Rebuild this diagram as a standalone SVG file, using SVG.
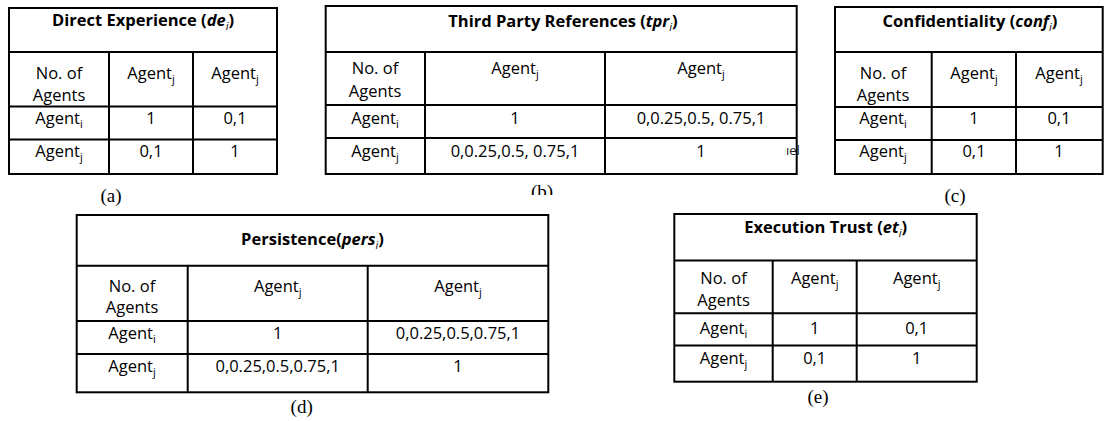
<svg xmlns="http://www.w3.org/2000/svg" width="1104" height="421" viewBox="0 0 1104 421">
<style>
.grid{fill:none;stroke:#000;stroke-width:2}
.t{font-family:"Open Sans","Liberation Sans",sans-serif;font-size:16.5px;fill:#000;text-anchor:middle}
.h{font-weight:bold}
.it{font-style:italic}
.sub{font-size:11px;font-weight:normal}
.lbl{font-family:"Liberation Serif",serif;font-size:19px;fill:#000;text-anchor:middle}
</style>
<defs>
<clipPath id="clipB"><rect x="500" y="170" width="90" height="25"/></clipPath>
</defs>
<rect width="1104" height="421" fill="#fff"/>

<g id="table-a">
<rect class="grid" x="9" y="8" width="268" height="166"/>
<path class="grid" d="M9 52H277M9 106.5H277M9 139.5H277M109 52V174M193 52V174"/>
<text class="t h" x="143" y="26">Direct Experience (<tspan class="it">de</tspan><tspan class="it sub" dy="4">i</tspan><tspan dy="-4">)</tspan></text>
<text class="t" x="59" y="79">No. of</text>
<text class="t" x="59" y="100.5">Agents</text>
<text class="t" x="151" y="79">Agent<tspan class="sub" dy="4">j</tspan></text>
<text class="t" x="235" y="79">Agent<tspan class="sub" dy="4">j</tspan></text>
<text class="t" x="59" y="124">Agent<tspan class="sub" dy="4">i</tspan></text>
<text class="t" x="151" y="124">1</text>
<text class="t" x="235" y="124">0,1</text>
<text class="t" x="59" y="157">Agent<tspan class="sub" dy="4">j</tspan></text>
<text class="t" x="151" y="157">0,1</text>
<text class="t" x="235" y="157">1</text>
<text class="lbl" x="111" y="202">(a)</text>
</g>

<g id="table-b">
<rect class="grid" x="325.7" y="6" width="471" height="168"/>
<path class="grid" d="M325.7 52H796.7M325.7 105H796.7M325.7 138H796.7M425 52V174M605 52V174"/>
<text class="t h" x="563" y="27">Third Party References (<tspan class="it">tpr</tspan><tspan class="it sub" dy="4">i</tspan><tspan dy="-4">)</tspan></text>
<text class="t" x="375" y="74">No. of</text>
<text class="t" x="375" y="97">Agents</text>
<text class="t" x="515" y="74">Agent<tspan class="sub" dy="4">j</tspan></text>
<text class="t" x="701" y="74">Agent<tspan class="sub" dy="4">j</tspan></text>
<text class="t" x="375" y="124">Agent<tspan class="sub" dy="4">i</tspan></text>
<text class="t" x="515" y="124">1</text>
<text class="t" x="701" y="124">0,0.25,0.5, 0.75,1</text>
<text class="t" x="375" y="157">Agent<tspan class="sub" dy="4">j</tspan></text>
<text class="t" x="515" y="157">0,0.25,0.5, 0.75,1</text>
<text class="t" x="701" y="157">1</text>
<text x="786" y="155" font-family="Open Sans, Liberation Sans, sans-serif" font-size="13" fill="#222">ıel</text>
<text class="lbl" x="542" y="198" clip-path="url(#clipB)">(b)</text>
</g>

<g id="table-c">
<rect class="grid" x="835" y="7" width="267.7" height="167"/>
<path class="grid" d="M835 52H1102.7M835 107H1102.7M835 140H1102.7M931.7 52V174M1016 52V174"/>
<text class="t h" x="970" y="27">Confidentiality (<tspan class="it">conf</tspan><tspan class="it sub" dy="4">i</tspan><tspan dy="-4">)</tspan></text>
<text class="t" x="883" y="79">No. of</text>
<text class="t" x="883" y="100.5">Agents</text>
<text class="t" x="974" y="79">Agent<tspan class="sub" dy="4">j</tspan></text>
<text class="t" x="1059" y="79">Agent<tspan class="sub" dy="4">j</tspan></text>
<text class="t" x="883" y="124">Agent<tspan class="sub" dy="4">i</tspan></text>
<text class="t" x="974" y="124">1</text>
<text class="t" x="1059" y="124">0,1</text>
<text class="t" x="883" y="157">Agent<tspan class="sub" dy="4">j</tspan></text>
<text class="t" x="974" y="157">0,1</text>
<text class="t" x="1059" y="157">1</text>
<text class="lbl" x="955" y="202">(c)</text>
</g>

<g id="table-d">
<rect class="grid" x="76.7" y="215" width="471.6" height="177.3"/>
<path class="grid" d="M76.7 265.7H548.3M76.7 321H548.3M76.7 354H548.3M187.7 265.7V392.3M367.7 265.7V392.3"/>
<text class="t h" x="312.5" y="245">Persistence(<tspan class="it">pers</tspan><tspan class="it sub" dy="4">i</tspan><tspan dy="-4">)</tspan></text>
<text class="t" x="132" y="292">No. of</text>
<text class="t" x="132" y="313">Agents</text>
<text class="t" x="277.7" y="292">Agent<tspan class="sub" dy="4">j</tspan></text>
<text class="t" x="458" y="292">Agent<tspan class="sub" dy="4">j</tspan></text>
<text class="t" x="132" y="339">Agent<tspan class="sub" dy="4">i</tspan></text>
<text class="t" x="277.7" y="339">1</text>
<text class="t" x="458" y="339">0,0.25,0.5,0.75,1</text>
<text class="t" x="132" y="372">Agent<tspan class="sub" dy="4">j</tspan></text>
<text class="t" x="277.7" y="372">0,0.25,0.5,0.75,1</text>
<text class="t" x="458" y="372">1</text>
<text class="lbl" x="301.7" y="413">(d)</text>
</g>

<g id="table-e">
<rect class="grid" x="674.3" y="214" width="302.4" height="167.7"/>
<path class="grid" d="M674.3 260.5H976.7M674.3 313.3H976.7M674.3 345.5H976.7M772.7 260.5V381.7M856.7 260.5V381.7"/>
<text class="t h" x="825.7" y="233">Execution Trust (<tspan class="it">et</tspan><tspan class="it sub" dy="4">i</tspan><tspan dy="-4">)</tspan></text>
<text class="t" x="723.5" y="284">No. of</text>
<text class="t" x="723.5" y="306">Agents</text>
<text class="t" x="814.7" y="284">Agent<tspan class="sub" dy="4">j</tspan></text>
<text class="t" x="916.7" y="284">Agent<tspan class="sub" dy="4">j</tspan></text>
<text class="t" x="723.5" y="334">Agent<tspan class="sub" dy="4">i</tspan></text>
<text class="t" x="814.7" y="334">1</text>
<text class="t" x="916.7" y="334">0,1</text>
<text class="t" x="723.5" y="364">Agent<tspan class="sub" dy="4">j</tspan></text>
<text class="t" x="814.7" y="364">0,1</text>
<text class="t" x="916.7" y="364">1</text>
<text class="lbl" x="818" y="403">(e)</text>
</g>
</svg>
